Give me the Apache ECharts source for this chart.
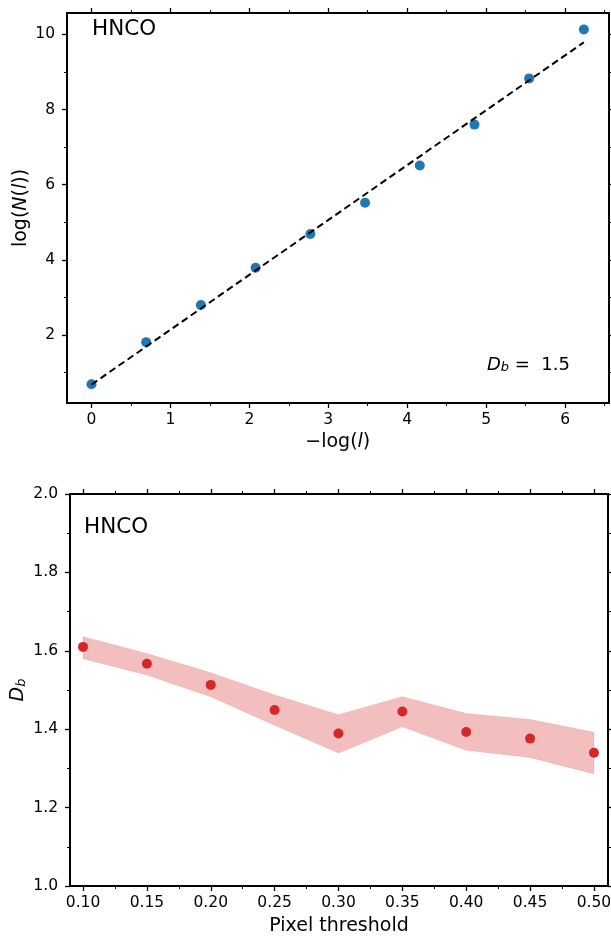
<!DOCTYPE html>
<html>
<head>
<meta charset="utf-8">
<script src="https://cdn.jsdelivr.net/npm/echarts@6/dist/echarts.min.js"></script>
<style>
html,body{margin:0;padding:0;background:#fff;}
#c{width:611px;height:936px;}
</style>
</head>
<body>
<div id="c"></div>
<script>
// ---- Top panel data ----
const logInvL = [0, 0.693, 1.386, 2.079, 2.773, 3.466, 4.159, 4.852, 5.545, 6.238];
const logN = [0.69, 1.81, 2.80, 3.79, 4.69, 5.52, 6.51, 7.60, 8.83, 10.13];
const fitX = [0, 6.238];
const fitY = [0.68, 9.79];
const topXMajor = [0, 1, 2, 3, 4, 5, 6];
const topXMinor = [0.5, 1.5, 2.5, 3.5, 4.5, 5.5, 6.5];
const topYMajor = [2, 4, 6, 8, 10];
const topYMinor = [1, 3, 5, 7, 9];

// ---- Bottom panel data ----
const thresholds = [0.10, 0.15, 0.20, 0.25, 0.30, 0.35, 0.40, 0.45, 0.50];
const dbValues = [1.610, 1.567, 1.513, 1.449, 1.389, 1.445, 1.393, 1.376, 1.340];
const dbUpper = [1.636, 1.593, 1.544, 1.487, 1.437, 1.483, 1.440, 1.425, 1.392];
const dbLower = [1.580, 1.538, 1.483, 1.410, 1.339, 1.406, 1.346, 1.328, 1.286];
const botXMajor = [0.10, 0.15, 0.20, 0.25, 0.30, 0.35, 0.40, 0.45, 0.50];
const botXMinor = [0.125, 0.175, 0.225, 0.275, 0.325, 0.375, 0.425, 0.475];
const botYMajor = [1.0, 1.2, 1.4, 1.6, 1.8, 2.0];
const botYMinor = [1.1, 1.3, 1.5, 1.7, 1.9];

const FONT = 'DejaVu Sans';
const LW = 2;

function axis(grid, pos, min, max, major, minor, opts) {
  opts = opts || {};
  const base = {
    gridIndex: grid, type: 'value', position: pos, min: min, max: max,
    splitLine: {show: false},
    axisLine: {show: true, onZero: false, lineStyle: {color: '#000', width: LW}},
    axisTick: {show: true, inside: false, length: 5, customValues: major, lineStyle: {color: '#000', width: 1.3}},
    axisLabel: {show: !!opts.labels, customValues: major, margin: opts.margin || 10,
      color: '#000', fontFamily: FONT, fontSize: 15.5, formatter: opts.fmt},
    name: opts.name || '', nameLocation: 'middle', nameGap: opts.nameGap || 30,
    nameRotate: opts.nameRotate, nameTextStyle: opts.nameStyle
  };
  if (opts.noMove) base.nameMoveOverlap = false;
  const mn = {
    gridIndex: grid, type: 'value', position: pos, min: min, max: max,
    splitLine: {show: false},
    axisLine: {show: false, onZero: false},
    axisTick: {show: true, inside: false, length: 3, customValues: minor, lineStyle: {color: '#000', width: 1}},
    axisLabel: {show: false}
  };
  return [base, mn];
}

const nameRich = {
  n: {fontFamily: FONT, fontSize: 19, color: '#000'},
  i: {fontFamily: FONT, fontSize: 19, fontStyle: 'italic', color: '#000'},
  s: {fontFamily: FONT, fontSize: 13, fontStyle: 'italic', color: '#000', lineHeight: 6, verticalAlign: 'bottom'}
};
const annRich = {
  n: {fontFamily: FONT, fontSize: 18, color: '#000'},
  i: {fontFamily: FONT, fontSize: 18, fontStyle: 'italic', color: '#000'},
  s: {fontFamily: FONT, fontSize: 13, fontStyle: 'italic', color: '#000', lineHeight: 6, verticalAlign: 'bottom'}
};

const xAxes = [].concat(
  axis(0, 'bottom', -0.31, 6.55, topXMajor, topXMinor, {labels: true, margin: 9,
    name: '{n|\u2212log(}{i|l}{n|)}', nameGap: 30, nameStyle: {rich: nameRich}}),
  axis(0, 'top', -0.31, 6.55, topXMajor, topXMinor),
  axis(1, 'bottom', 0.0898, 0.511, botXMajor, botXMinor, {labels: true, margin: 9,
    fmt: v => v.toFixed(2), name: '{n|Pixel threshold}', nameGap: 31, nameStyle: {rich: nameRich}}),
  axis(1, 'top', 0.0898, 0.511, botXMajor, botXMinor)
);
const yAxes = [].concat(
  axis(0, 'left', 0.19, 10.57, topYMajor, topYMinor, {labels: true, margin: 12, noMove: true,
    name: '{n|log(}{i|N}{n|(}{i|l}{n|))}', nameGap: 36, nameRotate: 90, nameStyle: {rich: nameRich}}),
  axis(0, 'right', 0.19, 10.57, topYMajor, topYMinor),
  axis(1, 'left', 1.0, 2.0, botYMajor, botYMinor, {labels: true, margin: 12, noMove: true,
    fmt: v => v.toFixed(1), name: '{i|D}{s|b}', nameGap: 42, nameRotate: 90, nameStyle: {rich: nameRich}}),
  axis(1, 'right', 1.0, 2.0, botYMajor, botYMinor)
);

const topPts = logInvL.map((x, i) => [x, logN[i]]);
const fitPts = fitX.map((x, i) => [x, fitY[i]]);
const botPts = thresholds.map((x, i) => [x, dbValues[i]]);

function renderBand(params, api) {
  const pts = [];
  for (let i = 0; i < thresholds.length; i++) pts.push(api.coord([thresholds[i], dbUpper[i]]));
  for (let i = thresholds.length - 1; i >= 0; i--) pts.push(api.coord([thresholds[i], dbLower[i]]));
  return {
    type: 'polygon',
    shape: {points: pts},
    style: {fill: 'rgba(214,39,40,0.3)', stroke: 'rgba(214,39,40,0.12)', lineWidth: 1}
  };
}

const option = {
  animation: false,
  backgroundColor: '#fff',
  grid: [
    {left: 67, top: 13, width: 541.5, height: 390, containLabel: false, outerBoundsMode: 'none'},
    {left: 70, top: 494, width: 538, height: 392, containLabel: false, outerBoundsMode: 'none'}
  ],
  xAxis: xAxes,
  yAxis: yAxes,
  series: [
    {type: 'scatter', xAxisIndex: 0, yAxisIndex: 0, data: topPts, symbol: 'circle', symbolSize: 10,
     itemStyle: {color: '#1f77b4', opacity: 1}, z: 2},
    {type: 'line', xAxisIndex: 0, yAxisIndex: 0, data: fitPts, symbol: 'none',
     lineStyle: {color: '#000', width: 2, type: [7, 4]}, z: 3},
    {type: 'custom', xAxisIndex: 4, yAxisIndex: 4, data: [[thresholds[0], dbValues[0]]],
     renderItem: renderBand, z: 1, silent: true},
    {type: 'scatter', xAxisIndex: 4, yAxisIndex: 4, data: botPts, symbol: 'circle', symbolSize: 10,
     itemStyle: {color: '#d62728', opacity: 1}, z: 3}
  ],
  graphic: [
    {type: 'text', left: 92, top: 18, style: {text: 'HNCO', font: '21.5px "DejaVu Sans"', fill: '#000'}},
    {type: 'text', left: 84, top: 516, style: {text: 'HNCO', font: '21.5px "DejaVu Sans"', fill: '#000'}},
    {type: 'text', left: 487, top: 356, style: {
      text: '{i|D}{s|b}{n| =  1.5}',
      rich: annRich
    }}
  ]
};

const chart = echarts.init(document.getElementById('c'), null, {renderer: 'canvas'});
chart.setOption(option);
</script>
</body>
</html>
